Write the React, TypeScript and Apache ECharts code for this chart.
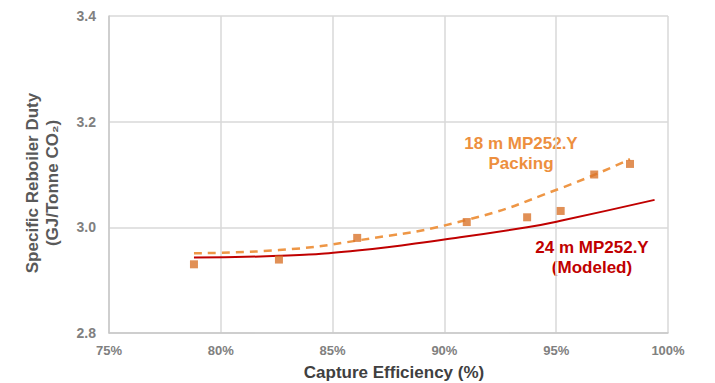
import React, { useEffect, useRef } from "react";
import * as echarts from "echarts";

const measuredX = [78.8, 82.6, 86.1, 91.0, 93.7, 95.2, 96.7, 98.3];
const measuredY = [2.93, 2.939, 2.98, 3.01, 3.019, 3.031, 3.1, 3.12];

const fit18X = [78.8, 82.6, 86.1, 91.0, 95.2, 98.3];
const fit18Y = [2.951, 2.957, 2.975, 3.014, 3.074, 3.129];

const model24X = [78.8, 82.6, 86.1, 90.0, 93.7, 95.2, 99.4];
const model24Y = [2.943, 2.946, 2.956, 2.977, 3.0, 3.0125, 3.052];

const xTicks = [75, 80, 85, 90, 95, 100];
const yTicks = [2.8, 3.0, 3.2, 3.4];

const pairs = (xs: number[], ys: number[]) => xs.map((x, i) => [x, ys[i]]);

export default function App() {
  const ref = useRef<HTMLDivElement>(null);
  useEffect(() => {
    if (!ref.current) return;
    const chart = echarts.init(ref.current, null, { renderer: "svg" });
    const font = "Liberation Sans, Arial, sans-serif";
    chart.setOption({
      animation: false,
      backgroundColor: "#ffffff",
      grid: { left: 109, right: 47, top: 16, bottom: 50 },
      xAxis: {
        type: "value",
        min: xTicks[0],
        max: xTicks[xTicks.length - 1],
        interval: 5,
        axisLine: { show: true, lineStyle: { color: "#c8c8c8", width: 1.5 } },
        axisTick: { show: false },
        splitLine: { show: true, lineStyle: { color: "#d9d9d9", width: 1.5 } },
        axisLabel: {
          formatter: (v: number) => `${v}%`,
          color: "#808080",
          fontFamily: font,
          fontSize: 13,
          fontWeight: "bold",
          margin: 11,
        },
      },
      yAxis: {
        type: "value",
        min: yTicks[0],
        max: yTicks[yTicks.length - 1],
        interval: 0.2,
        axisLine: { show: true, lineStyle: { color: "#c8c8c8", width: 1.5 } },
        axisTick: { show: false },
        splitLine: { show: true, lineStyle: { color: "#d9d9d9", width: 1.5 } },
        axisLabel: {
          formatter: (v: number) => v.toFixed(1),
          color: "#808080",
          fontFamily: font,
          fontSize: 14,
          fontWeight: "bold",
          margin: 13,
        },
      },
      graphic: [
        {
          type: "text",
          x: 394,
          y: 372,
          style: {
            text: "Capture Efficiency (%)",
            fill: "#404040",
            font: `bold 17px ${font}`,
            align: "center",
            verticalAlign: "middle",
          },
        },
        {
          type: "text",
          x: 32,
          y: 183,
          rotation: Math.PI / 2,
          style: {
            text: "Specific Reboiler Duty",
            fill: "#595959",
            font: `bold 17px ${font}`,
            align: "center",
            verticalAlign: "middle",
          },
        },
        {
          type: "text",
          x: 52,
          y: 183,
          rotation: Math.PI / 2,
          style: {
            text: "(GJ/Tonne CO₂)",
            fill: "#595959",
            font: `bold 17px ${font}`,
            align: "center",
            verticalAlign: "middle",
          },
        },
        {
          type: "text",
          x: 521,
          y: 153,
          style: {
            text: "18 m MP252.Y\nPacking",
            fill: "#ED8F3E",
            font: `bold 17px ${font}`,
            align: "center",
            verticalAlign: "middle",
            lineHeight: 20,
          },
        },
        {
          type: "text",
          x: 592,
          y: 257,
          style: {
            text: "24 m MP252.Y\n(Modeled)",
            fill: "#C00000",
            font: `bold 17px ${font}`,
            align: "center",
            verticalAlign: "middle",
            lineHeight: 20,
          },
        },
      ],
      series: [
        {
          type: "line",
          name: "24 m model",
          data: pairs(model24X, model24Y),
          smooth: true,
          showSymbol: false,
          lineStyle: { color: "#C00000", width: 2 },
          z: 2,
        },
        {
          type: "line",
          name: "18 m fit",
          data: pairs(fit18X, fit18Y),
          smooth: true,
          showSymbol: false,
          lineStyle: { color: "#EE9645", width: 2.5, type: [8, 6] },
          z: 3,
        },
        {
          type: "scatter",
          name: "18 m measured",
          data: pairs(measuredX, measuredY),
          symbol: "rect",
          symbolSize: 8,
          itemStyle: { color: "#D9742C" },
          z: 4,
        },
      ],
    });
    return () => chart.dispose();
  }, []);
  return <div ref={ref} style={{ width: 715, height: 383, position: "absolute", left: 0, top: 0 }} />;
}
